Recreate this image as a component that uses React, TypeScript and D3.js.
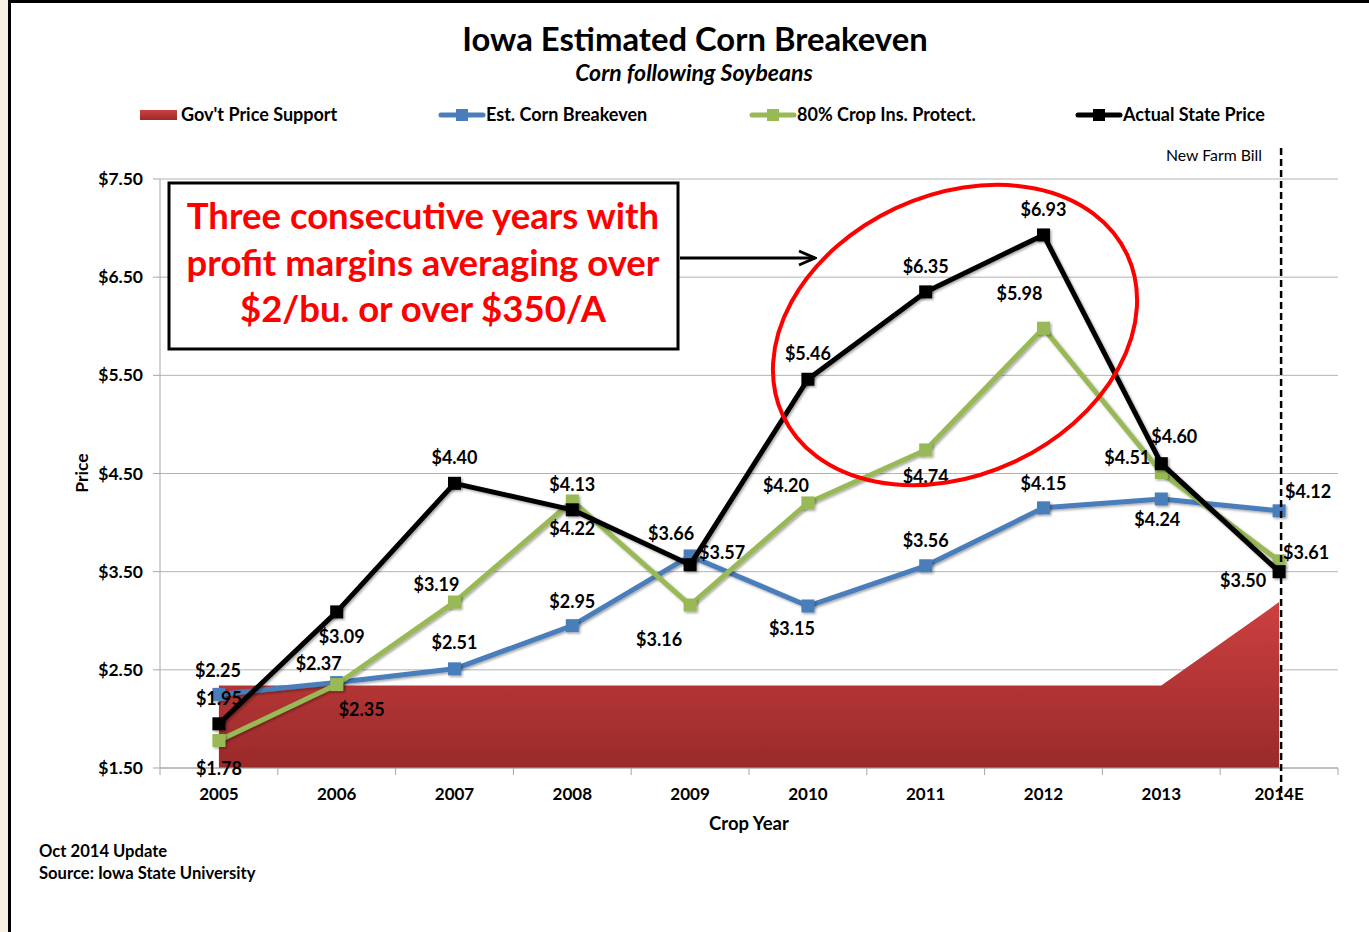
import React from 'react';
import * as d3 from 'd3';

const categories = ['2005', '2006', '2007', '2008', '2009', '2010', '2011', '2012', '2013', '2014E'];
const govSupport = [2.34, 2.34, 2.34, 2.34, 2.34, 2.34, 2.34, 2.34, 2.34, 3.19];
const breakeven = [2.25, 2.37, 2.51, 2.95, 3.66, 3.15, 3.56, 4.15, 4.24, 4.12];
const cropIns = [1.78, 2.35, 3.19, 4.22, 3.16, 4.20, 4.74, 5.98, 4.51, 3.61];
const actual = [1.95, 3.09, 4.40, 4.13, 3.57, 5.46, 6.35, 6.93, 4.60, 3.50];
const yTicks = [1.5, 2.5, 3.5, 4.5, 5.5, 6.5, 7.5];

// label offsets (dx, dy) relative to each point
const breakevenLabelOff = [[-1, -18], [-18, -14], [0, -21], [0, -19], [-19, -17], [-16, 28], [0, -20], [0, -19], [-4, 26], [29, -14]];
const cropInsLabelOff = [[0, 33], [25, 30], [-18, -12], [0, 33], [-31, 40], [-22, -12], [0, 32], [-24, -29], [-34, -10], [27, -3]];
const actualLabelOff = [[0, -20], [5, 30], [0, -20], [0, -20], [32, -7], [0, -20], [0, -20], [0, -20], [13, -22], [-36, 14]];

const FONT = 'Lato, "Open Sans", sans-serif';
const W = 1369;
const H = 932;
const plot = { left: 160, right: 1338, top: 179, bottom: 768 };

export default function App() {
  const x = d3.scaleBand<string>().domain(categories).range([plot.left, plot.right]);
  const cx = (c: string) => (x(c) as number) + x.bandwidth() / 2;
  const y = d3.scaleLinear().domain([1.5, 7.5]).range([plot.bottom, plot.top]);

  const line = d3.line<number>().x((_, i) => cx(categories[i])).y((d) => y(d));
  const area = d3
    .area<number>()
    .x((_, i) => cx(categories[i]))
    .y0(y(1.5))
    .y1((d) => y(d));

  const series = [
    { name: 'Est. Corn Breakeven', values: breakeven, color: '#4a7ebb', off: breakevenLabelOff },
    { name: '80% Crop Ins. Protect.', values: cropIns, color: '#98b954', off: cropInsLabelOff },
    { name: 'Actual State Price', values: actual, color: '#000000', off: actualLabelOff },
  ];

  const fmt = (v: number) => '$' + v.toFixed(2);
  const farmX = cx('2014E') + 2;

  const legendItems = [
    { label: "Gov't Price Support", x: 140, type: 'area', color: '#b83232' },
    { label: 'Est. Corn Breakeven', x: 441, type: 'line', color: '#4a7ebb' },
    { label: '80% Crop Ins. Protect.', x: 752, type: 'line', color: '#98b954' },
    { label: 'Actual State Price', x: 1078, type: 'line', color: '#000000' },
  ];

  return (
    <div style={{ position: 'absolute', left: 0, top: 0 }}>
      <svg width={W} height={H} style={{ display: 'block', fontFamily: FONT }}>
        <defs>
          <linearGradient id="redGrad" x1="0" y1="0" x2="0" y2="1">
            <stop offset="0%" stopColor="#cc4040" />
            <stop offset="100%" stopColor="#9a2a2a" />
          </linearGradient>
          <filter id="shadow" x="-50%" y="-50%" width="200%" height="200%">
            <feDropShadow dx="1.5" dy="1.5" stdDeviation="1.2" floodColor="#000" floodOpacity="0.35" />
          </filter>
          <marker id="arrowHead" viewBox="0 0 20 20" refX="18" refY="10" markerWidth="20" markerHeight="20" markerUnits="userSpaceOnUse" orient="auto">
            <path d="M2,3 L18,10 L2,17" fill="none" stroke="#000" strokeWidth="3" />
          </marker>
        </defs>
        <rect x={0} y={0} width={W} height={H} fill="#fff" />
        <rect x={0} y={0} width={8} height={H} fill="#f7efe4" />
        <line x1={9.5} y1={0} x2={9.5} y2={H} stroke="#000" strokeWidth={3} />
        <line x1={8} y1={1.5} x2={W} y2={1.5} stroke="#000" strokeWidth={3} />

        {/* Title */}
        <text x={695} y={51} textAnchor="middle" fontSize={32.8} fontWeight={700} fill="#000">
          Iowa Estimated Corn Breakeven
        </text>
        <text x={694} y={81} textAnchor="middle" fontSize={23} fontWeight={700} fontStyle="italic" fill="#000">
          Corn following Soybeans
        </text>

        {/* Legend */}
        {legendItems.map((it) => (
          <g key={it.label}>
            {it.type === 'area' ? (
              <rect x={it.x} y={110} width={37} height={10} fill="url(#redGrad)" />
            ) : (
              <g>
                <line x1={it.x} y1={115} x2={it.x + 42} y2={115} stroke={it.color} strokeWidth={5} strokeLinecap="round" />
                <rect x={it.x + 15} y={109} width={12} height={12} fill={it.color} />
              </g>
            )}
            <text x={it.type === 'area' ? it.x + 41 : it.x + 45} y={121} fontSize={18} fontWeight={700} fill="#000">
              {it.label}
            </text>
          </g>
        ))}

        {/* Gridlines */}
        {yTicks.map((t) => (
          <line key={t} x1={plot.left} x2={plot.right} y1={y(t)} y2={y(t)} stroke="#b3b3b3" strokeWidth={1} />
        ))}

        {/* Area */}
        <path d={area(govSupport) || ''} fill="url(#redGrad)" />

        {/* Axes */}
        <line x1={plot.left} x2={plot.left} y1={plot.top} y2={plot.bottom} stroke="#a6a6a6" />
        <line x1={plot.left} x2={plot.right} y1={plot.bottom} y2={plot.bottom} stroke="#a6a6a6" />
        {yTicks.map((t) => (
          <g key={'yt' + t}>
            <line x1={plot.left - 7} x2={plot.left} y1={y(t)} y2={y(t)} stroke="#a6a6a6" />
            <text x={143} y={y(t) + 6} textAnchor="end" fontSize={17.5} fontWeight={700} fill="#000">
              {fmt(t)}
            </text>
          </g>
        ))}
        {categories.map((c, i) => (
          <g key={'xt' + c}>
            <line x1={x(c) as number} x2={x(c) as number} y1={plot.bottom} y2={plot.bottom + 7} stroke="#a6a6a6" />
            {i === categories.length - 1 && (
              <line x1={plot.right} x2={plot.right} y1={plot.bottom} y2={plot.bottom + 7} stroke="#a6a6a6" />
            )}
            <text x={cx(c)} y={800} textAnchor="middle" fontSize={17} fontWeight={700} fill="#000">
              {c}
            </text>
          </g>
        ))}
        <text x={749} y={830} textAnchor="middle" fontSize={18.5} fontWeight={700} fill="#000">
          Crop Year
        </text>
        <text transform="translate(88,473) rotate(-90)" textAnchor="middle" fontSize={17.5} fontWeight={700} fill="#000">
          Price
        </text>

        {/* Series */}
        {series.map((s) => (
          <g key={s.name}>
            <path d={line(s.values) || ''} fill="none" stroke={s.color} strokeWidth={5} strokeLinejoin="round" filter="url(#shadow)" />
            {s.values.map((v, i) => (
              <rect key={i} x={cx(categories[i]) - 6.5} y={y(v) - 6.5} width={13} height={13} fill={s.color} filter="url(#shadow)" />
            ))}
          </g>
        ))}

        {/* Dashed farm bill line */}
        <line x1={farmX} x2={farmX} y1={148} y2={800} stroke="#000" strokeWidth={2.5} strokeDasharray="7,4" />
        <text x={1262} y={161} textAnchor="end" fontSize={15.8} fill="#000">
          New Farm Bill
        </text>

        {/* Labels */}
        {series.map((s) =>
          s.values.map((v, i) => (
            <text
              key={s.name + i}
              x={cx(categories[i]) + s.off[i][0]}
              y={y(v) + s.off[i][1] + 1}
              textAnchor="middle"
              fontSize={18}
              fontWeight={700}
              fill="#000"
            >
              {fmt(v)}
            </text>
          ))
        )}

        {/* Annotation */}
        <ellipse cx={955} cy={335} rx={190} ry={140} transform="rotate(-25,955,335)" fill="none" stroke="#ff0000" strokeWidth={4} />
        <line x1={680} y1={258} x2={815} y2={258} stroke="#000" strokeWidth={3} markerEnd="url(#arrowHead)" />
        <rect x={169} y={183} width={509} height={166} fill="#fff" stroke="#000" strokeWidth={3} />
        <g fontSize={36.5} fontWeight={700} fill="#ff0000" textAnchor="middle">
          <text x={423} y={229}>Three consecutive years with</text>
          <text x={423} y={276}>profit margins averaging over</text>
          <text x={423} y={322}>$2/bu. or over $350/A</text>
        </g>

        {/* Footer */}
        <text x={39} y={857} fontSize={16.6} fontWeight={700} fill="#000">Oct 2014 Update</text>
        <text x={39} y={879} fontSize={16.6} fontWeight={700} fill="#000">Source: Iowa State University</text>
      </svg>
    </div>
  );
}
